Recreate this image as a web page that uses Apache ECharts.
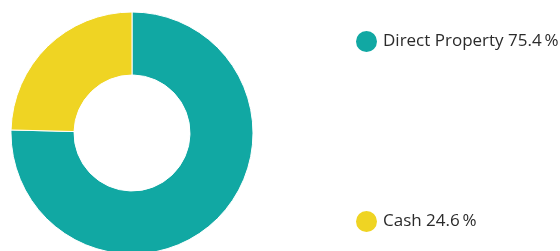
<!DOCTYPE html>
<html style="height: 100%">
<head>
    <meta charset="utf-8">
</head>
<body style="height: 100%; margin: 0; background: #fff">
    <div id="container" style="width: 560px; height: 251px"></div>
    <script type="text/javascript" src="https://cdn.jsdelivr.net/npm/echarts@6/dist/echarts.min.js"></script>
    <script type="text/javascript">
var categories = ['Direct Property', 'Cash'];
var values = [75.4, 24.6];
var colors = ['#11a8a3', '#efd423'];

var seriesData = [];
for (var i = 0; i < categories.length; i++) {
    seriesData.push({ name: categories[i], value: values[i] });
}

var myChart = echarts.init(document.getElementById('container'));

var option = {
    color: colors,
    animation: false,
    legend: {
        orient: 'vertical',
        left: 349,
        top: 24,
        icon: 'circle',
        itemWidth: 23,
        itemHeight: 23,
        itemGap: 155,
        textStyle: {
            fontFamily: 'Open Sans',
            fontSize: 17,
            color: '#2b2b2b'
        },
        formatter: function (name) {
            var idx = categories.indexOf(name);
            return name + ' ' + values[idx].toFixed(1) + '\u2009%';
        },
        data: categories
    },
    series: [
        {
            name: 'Allocation',
            type: 'pie',
            center: [132, 133],
            radius: [58, 121],
            startAngle: 90,
            label: { show: false },
            labelLine: { show: false },
            itemStyle: { borderColor: '#fff', borderWidth: 1 },
            emphasis: { disabled: true },
            data: seriesData
        }
    ]
};

myChart.setOption(option);
    </script>
</body>
</html>
